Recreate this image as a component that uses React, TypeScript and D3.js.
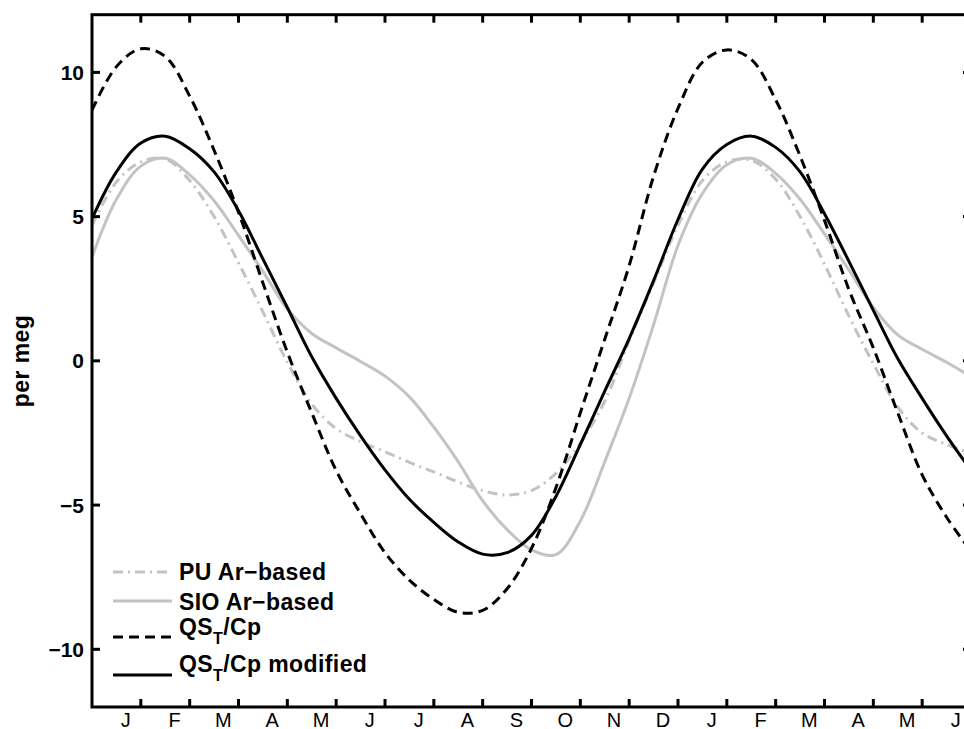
import React, { useRef, useEffect } from 'react'
import * as d3 from 'd3'

// month letters under the x axis (18 months shown)
const MONTHS = ['J', 'F', 'M', 'A', 'M', 'J', 'J', 'A', 'S', 'O', 'N', 'D', 'J', 'F', 'M', 'A', 'M', 'J']
const Y_TICKS = [-10, -5, 0, 5, 10]

// values sampled every half month, from month 0 to month 18
const PU_AR = [4.7, 6.2, 6.9, 7.0, 6.25, 5.0, 3.4, 1.7, -0.05, -1.5, -2.35, -2.8, -3.15, -3.52, -3.85, -4.2, -4.5, -4.65, -4.5, -3.9, -2.85, -1.4, 0.7, 2.7, 4.7, 6.25, 6.9, 6.95, 6.3, 5.0, 3.35, 1.55, -0.1, -1.6, -2.5, -2.9, -3.2]
const SIO_AR = [3.6, 5.6, 6.75, 7.02, 6.45, 5.55, 4.35, 3.1, 1.8, 0.95, 0.45, -0.02, -0.53, -1.25, -2.3, -3.5, -4.85, -5.85, -6.55, -6.72, -5.55, -3.5, -1.3, 1.25, 4.0, 5.8, 6.8, 7.02, 6.5, 5.6, 4.4, 3.15, 1.85, 0.9, 0.4, -0.05, -0.55]
const QS_CP = [8.69, 10.2, 10.82, 10.55, 9.18, 7.3, 5.15, 2.7, 0.3, -1.8, -3.8, -5.3, -6.65, -7.6, -8.27, -8.72, -8.65, -7.9, -6.5, -4.4, -1.8, 0.75, 3.3, 6.4, 8.75, 10.35, 10.78, 10.45, 9.05, 7.1, 4.87, 2.47, 0.45, -1.8, -3.95, -5.42, -6.6]
const QS_CP_MOD = [4.93, 6.55, 7.55, 7.79, 7.35, 6.55, 5.2, 3.53, 1.85, 0.14, -1.3, -2.6, -3.78, -4.8, -5.6, -6.28, -6.7, -6.65, -6.05, -4.7, -2.9, -1.05, 0.77, 2.78, 4.9, 6.65, 7.5, 7.79, 7.4, 6.55, 5.1, 3.45, 1.75, 0.08, -1.3, -2.6, -3.8]

export default function App() {
  const svgRef = useRef<SVGSVGElement>(null)

  useEffect(() => {
    const svg = d3.select(svgRef.current)
    svg.selectAll('*').remove()

    const width = 964, height = 729
    const left = 92, right = 971, top = 14.7, bottom = 707
    const font = 'Helvetica, Arial, "Liberation Sans", sans-serif'

    svg.attr('width', width).attr('height', height)

    const x = d3.scaleLinear().domain([0, 18]).range([left, right])
    const y = d3.scaleLinear().domain([-12, 12]).range([bottom, top])
    const grid = d3.range(PU_AR.length).map(i => i / 2)

    svg.append('clipPath').attr('id', 'plot-clip')
      .append('rect').attr('x', left).attr('y', top)
      .attr('width', right - left).attr('height', bottom - top)

    const line = d3.line<number>()
      .x((d, i) => x(grid[i]))
      .y(d => y(d))
      .curve(d3.curveCatmullRom.alpha(0.5))

    const series = [
      { key: 'sio', values: SIO_AR, color: '#c3c3c3', dash: null },
      { key: 'pu', values: PU_AR, color: '#c3c3c3', dash: '10 5 2 5' },
      { key: 'qs', values: QS_CP, color: '#000', dash: '10 6' },
      { key: 'qsmod', values: QS_CP_MOD, color: '#000', dash: null },
    ]

    const plot = svg.append('g').attr('clip-path', 'url(#plot-clip)')
    series.forEach(s => {
      plot.append('path')
        .datum(s.values)
        .attr('d', line)
        .attr('fill', 'none')
        .attr('stroke', s.color)
        .attr('stroke-width', 3)
        .attr('stroke-dasharray', s.dash)
    })

    // box + inward ticks
    const axes = svg.append('g').attr('stroke', '#000').attr('stroke-width', 3)
    axes.append('rect')
      .attr('x', left).attr('y', top)
      .attr('width', right - left).attr('height', bottom - top)
      .attr('fill', 'none')

    const tickLen = 8
    const xTicks = d3.range(1, 18)
    axes.selectAll('.xb').data(xTicks).join('line')
      .attr('x1', d => x(d)).attr('x2', d => x(d))
      .attr('y1', bottom).attr('y2', bottom - tickLen)
    axes.selectAll('.xt').data(xTicks).join('line')
      .attr('x1', d => x(d)).attr('x2', d => x(d))
      .attr('y1', top).attr('y2', top + tickLen)
    axes.selectAll('.yl').data(Y_TICKS).join('line')
      .attr('x1', left).attr('x2', left + tickLen)
      .attr('y1', d => y(d)).attr('y2', d => y(d))
    axes.selectAll('.yr').data(Y_TICKS).join('line')
      .attr('x1', right).attr('x2', right - tickLen)
      .attr('y1', d => y(d)).attr('y2', d => y(d))

    svg.append('g').selectAll('text').data(MONTHS).join('text')
      .attr('x', (d, i) => x(i + 0.69))
      .attr('y', 727)
      .attr('text-anchor', 'middle')
      .attr('font-family', font).attr('font-size', '20px')
      .text(d => d)

    svg.append('g').selectAll('text').data(Y_TICKS).join('text')
      .attr('x', 84)
      .attr('y', d => y(d))
      .attr('dy', '0.36em')
      .attr('text-anchor', 'end')
      .attr('font-family', font).attr('font-size', '21px').attr('font-weight', 'bold')
      .text(d => (d < 0 ? '\u2212' + Math.abs(d) : String(d)))

    svg.append('text')
      .attr('transform', 'translate(22,361) rotate(-90)')
      .attr('dy', '0.3em')
      .attr('text-anchor', 'middle')
      .attr('font-family', font).attr('font-size', '23px').attr('font-weight', 'bold')
      .attr('letter-spacing', '0.4px')
      .text('per meg')

    // legend
    const legend = [
      { label: 'PU Ar\u2212based', color: '#c3c3c3', dash: '10 5 2 5', ly: 572, ty: 580, sub: false },
      { label: 'SIO Ar\u2212based', color: '#c3c3c3', dash: null, ly: 601, ty: 610, sub: false },
      { label: '/Cp', color: '#000', dash: '10 6', ly: 637, ty: 635, sub: true },
      { label: '/Cp modified', color: '#000', dash: null, ly: 675, ty: 672, sub: true },
    ]
    const lg = svg.append('g')
    legend.forEach(item => {
      lg.append('line')
        .attr('x1', 113).attr('x2', 172)
        .attr('y1', item.ly).attr('y2', item.ly)
        .attr('stroke', item.color).attr('stroke-width', 3)
        .attr('stroke-dasharray', item.dash)
      const t = lg.append('text')
        .attr('x', 179).attr('y', item.ty)
        .attr('font-family', font).attr('font-size', '23px').attr('font-weight', 'bold')
        .attr('letter-spacing', '0.4px')
      if (item.sub) {
        t.append('tspan').text('QS')
        t.append('tspan').attr('dy', 9).attr('font-size', '16px').text('T')
        t.append('tspan').attr('dy', -9).text(item.label)
      } else {
        t.text(item.label)
      }
    })
  }, [])

  return <svg ref={svgRef} style={{ position: 'absolute', left: 0, top: 0 }} />
}
